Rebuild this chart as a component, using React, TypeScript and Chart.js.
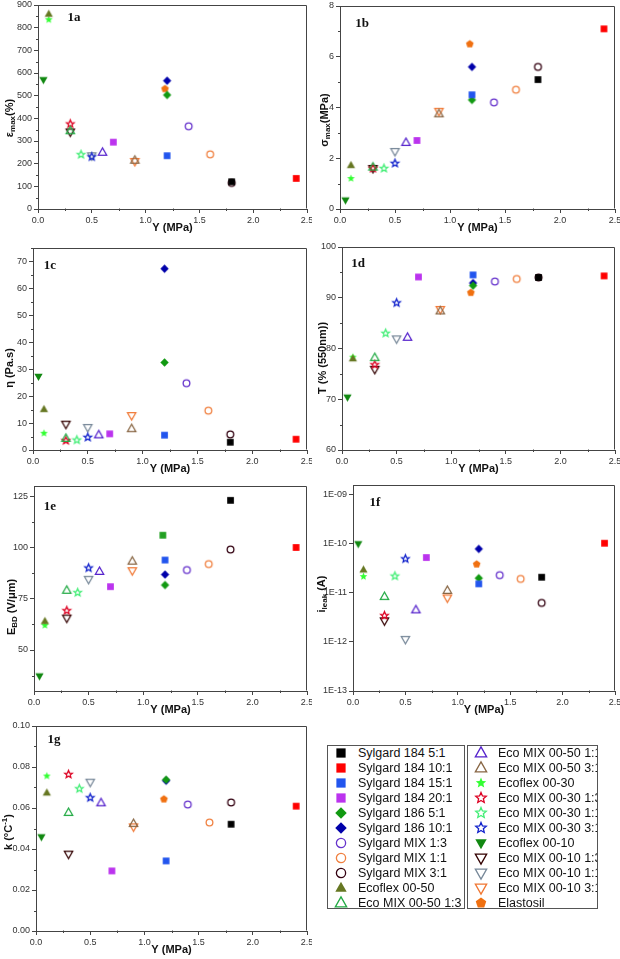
import React, { useEffect, useRef } from 'react';
import { Chart, registerables } from 'chart.js';

Chart.register(...registerables);

// ---------------- data ----------------
const sampleNames = [
  'Sylgard 184 5:1', 'Sylgard 184 10:1', 'Sylgard 184 15:1', 'Sylgard 184 20:1',
  'Sylgard 186 5:1', 'Sylgard 186 10:1', 'Sylgard MIX 1:3', 'Sylgard MIX 1:1',
  'Sylgard MIX 3:1', 'Ecoflex 00-50', 'Eco MIX 00-50 1:3', 'Eco MIX 00-50 1:1',
  'Eco MIX 00-50 3:1', 'Ecoflex 00-30', 'Eco MIX 00-30 1:3', 'Eco MIX 00-30 1:1',
  'Eco MIX 00-30 3:1', 'Ecoflex 00-10', 'Eco MIX 00-10 1:3', 'Eco MIX 00-10 1:1',
  'Eco MIX 00-10 3:1', 'Elastosil',
];

// Young's modulus Y (MPa) of each sample (x position)
const youngModulus = [1.8, 2.4, 1.2, 0.7, 1.2, 1.2, 1.4, 1.6, 1.8, 0.1, 0.3, 0.6, 0.9, 0.1, 0.3, 0.4, 0.5, 0.05, 0.3, 0.5, 0.9, 1.18];

// 1a: max strain (%)
const strainMax = [120, 135, 235, 295, 503, 566, 365, 241, 115, 860, 345, 250, 215, 835, 375, 240, 230, 570, 340, 235, 210, 530];
// 1b: max stress (MPa)
const stressMax = [5.1, 7.1, 4.5, 2.7, 4.3, 5.6, 4.2, 4.7, 5.6, 1.72, 1.65, 2.62, 3.75, 1.2, 1.6, 1.6, 1.8, 0.35, 1.6, 2.27, 3.85, 6.5];
// 1c: viscosity (Pa.s)
const viscosity = [2.9, 4.0, 5.5, 6.0, 32.5, 67.3, 24.8, 14.6, 5.8, 15.1, 4.3, 5.6, 7.9, 6.2, 3.5, 3.7, 4.7, 27.3, 9.6, 8.4, 12.8, null];
// 1d: transmittance at 550 nm (%)
const transmittance = [94.0, 94.3, 94.5, 94.1, 92.4, 92.9, 93.2, 93.7, 94.0, 78.0, 78.2, 82.2, 87.4, 78.3, 76.8, 83.0, 89.0, 70.4, 75.9, 81.9, 87.7, 91.0];
// 1e: breakdown field (V/um)
const breakdownField = [123, 100, 93.9, 80.9, 81.7, 86.8, 89, 91.9, 99, 64, 79.1, 88.3, 93.3, 62, 69.2, 78, 90, 37.3, 65.6, 84.5, 88.7, 106];
// 1f: leakage current (A)
const leakageCurrent = [2.09e-11, 1.03e-10, 1.53e-11, 5.26e-11, 2.0e-11, 7.9e-11, 2.3e-11, 1.93e-11, 6.25e-12, 2.95e-11, 8.4e-12, 4.5e-12, 1.12e-11, 2.15e-11, 3.45e-12, 2.2e-11, 4.95e-11, 1.0e-10, 2.7e-12, 1.13e-12, 7.9e-12, 3.85e-11];
// 1g: thermal coefficient k (1/°C)
const thermoCoef = [0.0521, 0.0609, 0.0342, 0.0293, 0.0738, 0.0733, 0.0617, 0.0529, 0.0627, 0.0674, 0.0578, 0.0625, 0.0524, 0.0756, 0.0764, 0.0694, 0.065, 0.0459, 0.0375, 0.0726, 0.0508, 0.0643];

// tick values
const xTicks = [0, 0.5, 1.0, 1.5, 2.0, 2.5];
const strainTicks = [0, 100, 200, 300, 400, 500, 600, 700, 800, 900];
const stressTicks = [0, 2, 4, 6, 8];
const viscosityTicks = [0, 10, 20, 30, 40, 50, 60, 70];
const transmittanceTicks = [60, 70, 80, 90, 100];
const breakdownTicks = [50, 75, 100, 125];
const leakageTicks = [1e-13, 1e-12, 1e-11, 1e-10, 1e-9];
const thermoTicks = [0, 0.02, 0.04, 0.06, 0.08, 0.1];

// ---------------- styles ----------------
type Shape = 'square' | 'diamond' | 'circle' | 'up' | 'down' | 'star' | 'pentagon';
interface MarkerStyle { shape: Shape; color: string; filled: boolean; }

const markerStyles: MarkerStyle[] = [
  { shape: 'square', color: '#000000', filled: true },
  { shape: 'square', color: '#ff0000', filled: true },
  { shape: 'square', color: '#2255ee', filled: true },
  { shape: 'square', color: '#bb33ee', filled: true },
  { shape: 'diamond', color: '#119911', filled: true },
  { shape: 'diamond', color: '#0000aa', filled: true },
  { shape: 'circle', color: '#6633cc', filled: false },
  { shape: 'circle', color: '#f08040', filled: false },
  { shape: 'circle', color: '#330011', filled: false },
  { shape: 'up', color: '#667722', filled: true },
  { shape: 'up', color: '#22aa44', filled: false },
  { shape: 'up', color: '#5522cc', filled: false },
  { shape: 'up', color: '#886644', filled: false },
  { shape: 'star', color: '#33ff33', filled: true },
  { shape: 'star', color: '#dd0022', filled: false },
  { shape: 'star', color: '#44ee77', filled: false },
  { shape: 'star', color: '#1122cc', filled: false },
  { shape: 'down', color: '#118811', filled: true },
  { shape: 'down', color: '#330000', filled: false },
  { shape: 'down', color: '#778899', filled: false },
  { shape: 'down', color: '#f07733', filled: false },
  { shape: 'pentagon', color: '#f07010', filled: true },
];

const SANS = '"Liberation Sans", Arial, sans-serif';
const SERIF = '"Liberation Serif", "Times New Roman", serif';

function drawShape(ctx: CanvasRenderingContext2D, st: MarkerStyle, cx: number, cy: number, s: number) {
  ctx.beginPath();
  const { shape } = st;
  if (shape === 'square') {
    const h = s * 0.42;
    ctx.rect(cx - h, cy - h, 2 * h, 2 * h);
  } else if (shape === 'diamond') {
    const d = s * 0.52;
    ctx.moveTo(cx, cy - d); ctx.lineTo(cx + d, cy); ctx.lineTo(cx, cy + d); ctx.lineTo(cx - d, cy); ctx.closePath();
  } else if (shape === 'circle') {
    ctx.arc(cx, cy, s * 0.42, 0, Math.PI * 2);
  } else if (shape === 'up' || shape === 'down') {
    const r = s * 0.56;
    const sg = shape === 'up' ? 1 : -1;
    ctx.moveTo(cx, cy - sg * r);
    ctx.lineTo(cx + r * 0.92, cy + sg * r * 0.62);
    ctx.lineTo(cx - r * 0.92, cy + sg * r * 0.62);
    ctx.closePath();
  } else if (shape === 'star') {
    const ro = s * 0.5, ri = ro * 0.45;
    for (let i = 0; i < 10; i++) {
      const a = -Math.PI / 2 + (i * Math.PI) / 5;
      const r = i % 2 === 0 ? ro : ri;
      const px = cx + r * Math.cos(a), py = cy + r * Math.sin(a);
      if (i === 0) ctx.moveTo(px, py); else ctx.lineTo(px, py);
    }
    ctx.closePath();
  } else if (shape === 'pentagon') {
    const r = s * 0.5;
    for (let i = 0; i < 5; i++) {
      const a = -Math.PI / 2 + (i * 2 * Math.PI) / 5;
      const px = cx + r * Math.cos(a), py = cy + r * Math.sin(a);
      if (i === 0) ctx.moveTo(px, py); else ctx.lineTo(px, py);
    }
    ctx.closePath();
  }
  if (st.filled) {
    ctx.fillStyle = st.color;
    ctx.fill();
  } else {
    ctx.lineWidth = 1.3;
    ctx.strokeStyle = st.color;
    ctx.stroke();
  }
}

function makeMarker(st: MarkerStyle, s: number): HTMLCanvasElement {
  const size = Math.ceil(s * 1.6) + 2;
  const c = document.createElement('canvas');
  c.width = size; c.height = size;
  const ctx = c.getContext('2d')!;
  drawShape(ctx, st, size / 2, size / 2, s);
  return c;
}

// ---------------- panels ----------------
interface Seg { text: string; sub?: boolean; sup?: boolean; }
interface PanelCfg {
  id: string;
  label: string;
  values: (number | null)[];
  yMin: number; yMax: number; yTicks: number[];
  log?: boolean;
  yFormat: (v: number) => string;
  yTitle: Seg[];
  box: { left: number; top: number; w: number; h: number };
  area: { left: number; top: number; right: number; bottom: number }; // canvas-relative
  yTitlePos: [number, number];
  labelPos: [number, number]; // relative to chart area top-left
  overrides?: Record<number, MarkerStyle>;
}

const intFmt = (v: number) => String(Math.round(v));
const logFmt = (v: number) => {
  const e = Math.round(Math.log10(v));
  return '1E-' + String(-e).padStart(2, '0');
};

const panels: PanelCfg[] = [
  {
    id: 'a', label: '1a', values: strainMax, yMin: 0, yMax: 900, yTicks: strainTicks, yFormat: intFmt,
    yTitle: [{ text: 'ε' }, { text: 'max', sub: true }, { text: '(%)' }],
    box: { left: 0, top: 0, w: 312, h: 240 }, area: { left: 38, top: 5, right: 308, bottom: 209 },
    yTitlePos: [10, 118], labelPos: [36, 13],
  },
  {
    id: 'b', label: '1b', values: stressMax, yMin: 0, yMax: 8, yTicks: stressTicks, yFormat: intFmt,
    yTitle: [{ text: 'σ' }, { text: 'max', sub: true }, { text: '(MPa)' }],
    box: { left: 312, top: 0, w: 308, h: 240 }, area: { left: 28, top: 6, right: 303, bottom: 209 },
    yTitlePos: [13, 120], labelPos: [22, 18],
  },
  {
    id: 'c', label: '1c', values: viscosity, yMin: 0, yMax: 75, yTicks: viscosityTicks, yFormat: intFmt,
    yTitle: [{ text: 'η (Pa.s)' }],
    box: { left: 0, top: 240, w: 312, h: 240 }, area: { left: 33, top: 8, right: 308, bottom: 210 },
    yTitlePos: [10, 128], labelPos: [17, 18],
  },
  {
    id: 'd', label: '1d', values: transmittance, yMin: 60, yMax: 100, yTicks: transmittanceTicks, yFormat: intFmt,
    yTitle: [{ text: 'T (% (550nm))' }],
    box: { left: 312, top: 240, w: 308, h: 240 }, area: { left: 30, top: 7, right: 303, bottom: 210 },
    yTitlePos: [11, 118], labelPos: [16, 17],
  },
  {
    id: 'e', label: '1e', values: breakdownField, yMin: 30, yMax: 130, yTicks: breakdownTicks, yFormat: intFmt,
    yTitle: [{ text: 'E' }, { text: 'BD', sub: true }, { text: ' (V/μm)' }],
    box: { left: 0, top: 480, w: 312, h: 240 }, area: { left: 34, top: 6, right: 308, bottom: 211 },
    yTitlePos: [12, 127], labelPos: [16, 21],
    overrides: { 21: { shape: 'square', color: '#22a022', filled: true } },
  },
  {
    id: 'f', label: '1f', values: leakageCurrent, yMin: 1e-13, yMax: Math.pow(10, -8.8), yTicks: leakageTicks, yFormat: logFmt, log: true,
    yTitle: [{ text: 'i' }, { text: 'leak', sub: true }, { text: ' (A)' }],
    box: { left: 312, top: 480, w: 308, h: 240 }, area: { left: 41, top: 5, right: 303, bottom: 211 },
    yTitlePos: [10, 114], labelPos: [22, 18],
  },
  {
    id: 'g', label: '1g', values: thermoCoef, yMin: 0, yMax: 0.1, yTicks: thermoTicks, yFormat: (v) => v.toFixed(2),
    yTitle: [{ text: 'k (°C' }, { text: '-1', sup: true }, { text: ')' }],
    box: { left: 0, top: 720, w: 312, h: 239 }, area: { left: 36, top: 6, right: 308, bottom: 211 },
    yTitlePos: [9, 112], labelPos: [18, 14],
  },
];

function drawSegments(ctx: CanvasRenderingContext2D, segs: Seg[], x: number, y: number, rotate: boolean) {
  const mainFont = `bold 11px ${SANS}`;
  const smallFont = `bold 8px ${SANS}`;
  ctx.save();
  ctx.translate(x, y);
  if (rotate) ctx.rotate(-Math.PI / 2);
  let total = 0;
  for (const s of segs) {
    ctx.font = s.sub || s.sup ? smallFont : mainFont;
    total += ctx.measureText(s.text).width;
  }
  let cx = -total / 2;
  ctx.textBaseline = 'middle';
  ctx.textAlign = 'left';
  ctx.fillStyle = '#111';
  for (const s of segs) {
    ctx.font = s.sub || s.sup ? smallFont : mainFont;
    const dy = s.sub ? 3 : s.sup ? -4 : 0;
    ctx.fillText(s.text, cx, dy);
    cx += ctx.measureText(s.text).width;
  }
  ctx.restore();
}

function buildConfig(cfg: PanelCfg): any {
  const datasets = sampleNames.map((name, i) => {
    const v = cfg.values[i];
    const st = (cfg.overrides && cfg.overrides[i]) || markerStyles[i];
    return {
      label: name,
      data: v === null || v === undefined ? [] : [{ x: youngModulus[i], y: v }],
      pointStyle: makeMarker(st, 8),
      pointRadius: 4,
      showLine: false,
    };
  });

  const { area, box } = cfg;
  const yAxisW = area.left;
  const xAxisH = box.h - area.bottom;
  const padRight = box.w - area.right;

  const decor = {
    id: 'decor' + cfg.id,
    afterDraw(chart: any) {
      const ctx: CanvasRenderingContext2D = chart.ctx;
      const ca = chart.chartArea;
      const xs = chart.scales.x, ys = chart.scales.y;
      ctx.save();
      ctx.strokeStyle = '#444';
      ctx.lineWidth = 1;
      const L = Math.round(ca.left) + 0.5, T = Math.round(ca.top) + 0.5;
      const R = Math.round(ca.right) - 0.5, B = Math.round(ca.bottom) - 0.5;
      ctx.beginPath();
      ctx.moveTo(L, T); ctx.lineTo(R, T); ctx.lineTo(R, B);
      ctx.stroke();
      // minor ticks
      ctx.beginPath();
      for (let i = 0; i < xTicks.length - 1; i++) {
        const px = Math.round(xs.getPixelForValue((xTicks[i] + xTicks[i + 1]) / 2)) + 0.5;
        ctx.moveTo(px, B); ctx.lineTo(px, B + 2.5);
      }
      if (!cfg.log) {
        const t = cfg.yTicks;
        const step = t[1] - t[0];
        for (let v = t[0] - step / 2; v <= cfg.yMax; v += step) {
          if (v < cfg.yMin) continue;
          const py = Math.round(ys.getPixelForValue(v)) + 0.5;
          ctx.moveTo(L, py); ctx.lineTo(L - 2.5, py);
        }
      }
      ctx.stroke();
      ctx.restore();
      // panel label
      ctx.save();
      ctx.font = `bold 13px ${SERIF}`;
      ctx.fillStyle = '#111';
      ctx.textAlign = 'center';
      ctx.textBaseline = 'middle';
      ctx.fillText(cfg.label, ca.left + cfg.labelPos[0], ca.top + cfg.labelPos[1]);
      ctx.restore();
      // axis titles
      drawSegments(ctx, [{ text: 'Y (MPa)' }], (ca.left + ca.right) / 2, ca.bottom + 19, false);
      drawSegments(ctx, cfg.yTitle, cfg.yTitlePos[0], cfg.yTitlePos[1], true);
    },
  };

  const tickFont = { family: SANS, size: 9 };

  return {
    type: 'scatter',
    data: { datasets },
    options: {
      responsive: false,
      animation: false,
      events: [],
      layout: { padding: { left: 0, right: padRight, top: area.top, bottom: 0 } },
      plugins: { legend: { display: false }, tooltip: { enabled: false } },
      scales: {
        x: {
          type: 'linear',
          min: 0, max: 2.5,
          afterBuildTicks: (s: any) => { s.ticks = xTicks.map((v) => ({ value: v })); },
          afterFit: (s: any) => { s.height = xAxisH; s.paddingLeft = 0; s.paddingRight = 0; },
          ticks: {
            callback: (v: any) => Number(v).toFixed(1),
            font: tickFont, color: '#333', padding: 2, maxRotation: 0, autoSkip: false,
          },
          grid: { drawOnChartArea: false, drawTicks: true, tickLength: 4, color: '#444', lineWidth: 1 },
          border: { display: true, color: '#444', width: 1 },
        },
        y: {
          type: cfg.log ? 'logarithmic' : 'linear',
          min: cfg.yMin, max: cfg.yMax,
          afterBuildTicks: (s: any) => { s.ticks = cfg.yTicks.map((v) => ({ value: v })); },
          afterFit: (s: any) => { s.width = yAxisW; s.paddingTop = 0; s.paddingBottom = 0; },
          ticks: {
            callback: (v: any) => cfg.yFormat(Number(v)),
            font: tickFont, color: '#333', padding: 2, autoSkip: false,
          },
          grid: { drawOnChartArea: false, drawTicks: true, tickLength: 4, color: '#444', lineWidth: 1 },
          border: { display: true, color: '#444', width: 1 },
        },
      },
    },
    plugins: [decor],
  };
}

function Panel({ cfg }: { cfg: PanelCfg }) {
  const ref = useRef<HTMLCanvasElement>(null);
  useEffect(() => {
    if (!ref.current) return;
    const chart = new Chart(ref.current, buildConfig(cfg));
    return () => chart.destroy();
  }, [cfg]);
  const { box } = cfg;
  return (
    <div style={{ position: 'absolute', left: box.left, top: box.top, width: box.w, height: box.h, overflow: 'hidden' }}>
      <canvas ref={ref} width={box.w} height={box.h} style={{ display: 'block', width: box.w, height: box.h }} />
    </div>
  );
}

function LegendMarker({ index }: { index: number }) {
  const ref = useRef<HTMLCanvasElement>(null);
  useEffect(() => {
    const c = ref.current;
    if (!c) return;
    const ctx = c.getContext('2d')!;
    ctx.clearRect(0, 0, c.width, c.height);
    drawShape(ctx, markerStyles[index], 8, 8, 11);
  }, [index]);
  return <canvas ref={ref} width={16} height={16} style={{ position: 'absolute', left: 5, top: -8, width: 16, height: 16 }} />;
}

function LegendBox({ left, width, start, count }: { left: number; width: number; start: number; count: number }) {
  const rows = [];
  for (let k = 0; k < count; k++) {
    const i = start + k;
    rows.push(
      <div key={i} style={{ position: 'absolute', left: 0, top: 7 + 15 * k, width: width, height: 0 }}>
        <LegendMarker index={i} />
        <span style={{ position: 'absolute', left: 30, top: -8, lineHeight: '16px', fontSize: 12.5, fontFamily: SANS, color: '#111', whiteSpace: 'nowrap' }}>
          {sampleNames[i]}
        </span>
      </div>,
    );
  }
  return (
    <div style={{ position: 'absolute', left, top: 745, width, height: 164, border: '1px solid #555', boxSizing: 'border-box', overflow: 'hidden', background: '#fff' }}>
      {rows}
    </div>
  );
}

export default function App() {
  return (
    <div style={{ position: 'absolute', left: 0, top: 0, width: 620, height: 959, background: '#fff', overflow: 'hidden' }}>
      {panels.map((p) => <Panel key={p.id} cfg={p} />)}
      <LegendBox left={327} width={138} start={0} count={11} />
      <LegendBox left={467} width={131} start={11} count={11} />
    </div>
  );
}
